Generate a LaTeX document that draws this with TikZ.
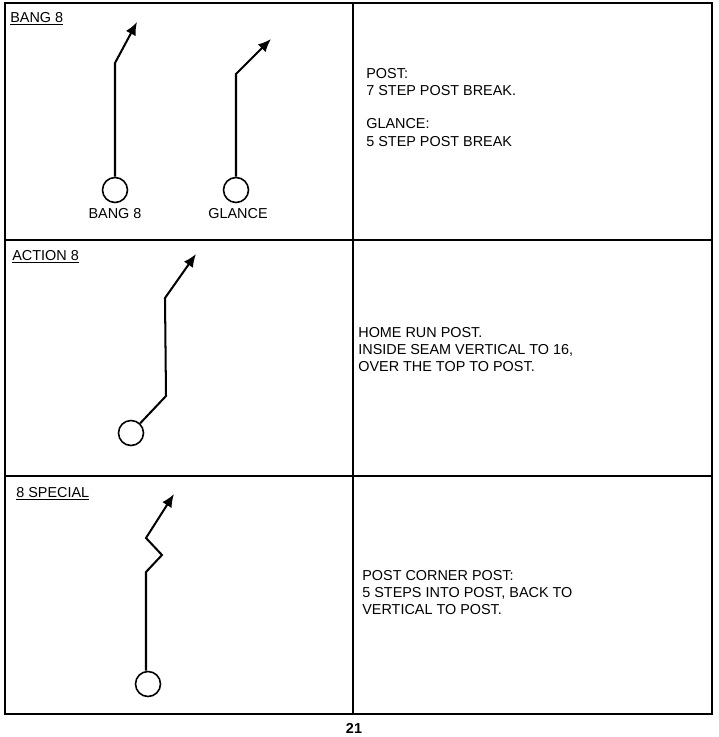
\documentclass[tikz,border=0pt]{standalone}
\usepackage{fontspec}
\setmainfont{Liberation Sans}
\usepackage{tikz}
\usetikzlibrary{arrows.meta,positioning}

\begin{document}
\begin{tikzpicture}[x=0.02cm, y=-0.02cm,
      frame/.style={draw, line width=0.9pt},
      player/.style={draw, circle, line width=0.9pt, minimum size=0.5cm, inner sep=0pt},
      route/.style={line width=1.15pt, -{Latex[length=2.6mm, width=2.2mm]}},
      hdr/.style={anchor=base west, inner sep=0pt, font=\fontsize{8.2}{9.8}\selectfont},
      note/.style={anchor=north west, inner sep=0pt, align=left, font=\fontsize{8.2}{9.7}\selectfont},
      tag/.style={anchor=base, inner sep=0pt, font=\fontsize{8.2}{9.8}\selectfont}
    ]
    \useasboundingbox (0,0) rectangle (718,737);
    \draw[frame] (5,3) rectangle (712,714);
    \draw[frame] (353,3) -- (353,714);
    \foreach \r in {240,476} { \draw[frame] (5,\r) -- (712,\r); }

    \node[hdr] (h1) at (10,22)  {\underline{BANG 8}};
    \node[hdr] (h2) at (12,260) {\underline{ACTION 8}};
    \node[hdr] (h3) at (16,497) {\underline{8 SPECIAL}};

    \node[player] (bang) at (115,190) {};
    \node[player] (glance) at (236,190) {};
    \node[player] (action) at (131,433) {};
    \node[player] (special) at (148,684) {};
    \node[tag] (tbang) at (115,218) {BANG 8};
    \node[tag] (tglance) at (238,218) {GLANCE};

    \coordinate (b1) at (115,63);  \coordinate (b2) at (137,22);
    \coordinate (g1) at (236,74);  \coordinate (g2) at (271,39);
    \coordinate (a1) at (166,396); \coordinate (a2) at (165,298); \coordinate (a3) at (196,254);
    \coordinate (s1) at (146,572); \coordinate (s2) at (162,555);
    \coordinate (s3) at (146,538); \coordinate (s4) at (174,494);
    \draw[route] (bang.north) -- (b1) -- (b2);
    \draw[route] (glance.north) -- (g1) -- (g2);
    \draw[route] (action) -- (a1) -- (a2) -- (a3);
    \draw[route] (special.north -| s1) -- (s1) -- (s2) -- (s3) -- (s4);

    \node[note] (n1) at (366,68) {POST:\\7 STEP POST BREAK.\\[0.33cm]GLANCE:\\5 STEP POST BREAK};
    \node[note] (n2) at (358,327) {HOME RUN POST.\\INSIDE SEAM VERTICAL TO 16,\\OVER THE TOP TO POST.};
    \node[note] (n3) at (362,570) {POST CORNER POST:\\5 STEPS INTO POST, BACK TO\\VERTICAL TO POST.};
    \node[tag, font=\fontsize{8.2}{9.8}\selectfont\bfseries] (pg) at (354,733) {21};
  \end{tikzpicture}
\end{document}
